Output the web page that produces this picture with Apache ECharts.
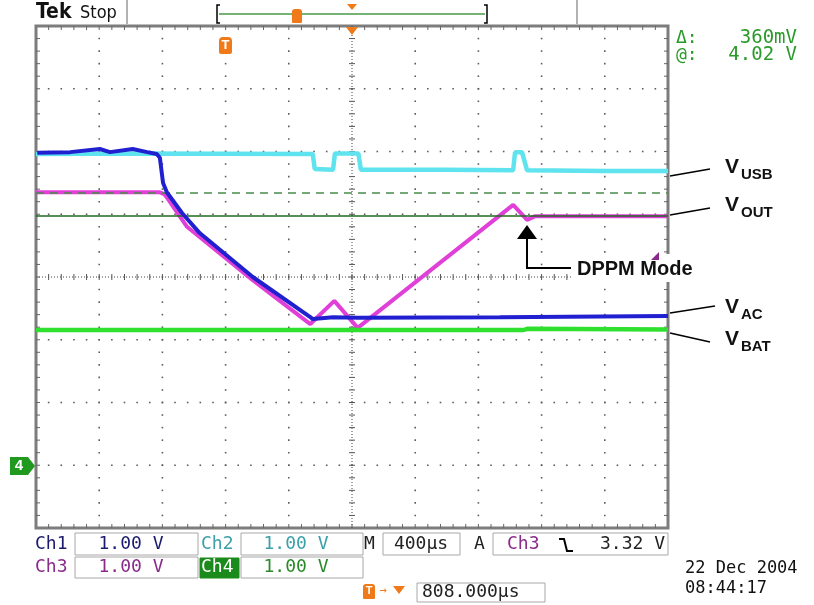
<!DOCTYPE html>
<html>
<head>
<meta charset="utf-8">
<script src="https://cdn.jsdelivr.net/npm/echarts@6/dist/echarts.min.js"></script>
<style>
    html, body { margin: 0; padding: 0; background: #fff; }
    #scope { width: 814px; height: 605px; }
</style>
</head>
<body>
<div id="scope"></div>
<script>
// traces in screen divisions: x -5..5 (10 div), y -4..4 (8 div)
var vusbTrace = [[-5.0,1.96],[-3.5,1.97],[-0.62,1.96],[-0.59,1.72],[-0.30,1.71],[-0.27,1.97],[0.10,1.97],[0.14,1.71],[1.5,1.71],[2.55,1.70],[2.58,1.99],[2.69,1.99],[2.77,1.70],[4.0,1.69],[5.0,1.69]];
var vacTrace = [[-4.98,1.98],[-4.46,1.99],[-3.99,2.04],[-3.83,1.99],[-3.47,2.04],[-3.24,1.99],[-3.09,1.96],[-3.04,1.90],[-2.99,1.50],[-2.93,1.35],[-2.69,1.02],[-2.41,0.70],[-1.57,0.0],[-0.66,-0.64],[-0.62,-0.67],[-0.30,-0.64],[0.09,-0.65],[2.34,-0.64],[5.0,-0.62]];
var voutTrace = [[-5.0,1.35],[-3.04,1.35],[-2.97,1.32],[-2.93,1.27],[-2.61,0.80],[-1.57,-0.05],[-0.66,-0.75],[-0.28,-0.38],[0.09,-0.81],[2.55,1.15],[2.77,0.91],[2.90,0.97],[5.0,0.97]];
var vbatTrace = [[-5.0,-0.845],[2.72,-0.845],[2.77,-0.825],[5.0,-0.835]];
var cursorLevels = [0.972, 1.355];   // solid, dashed

var chart = echarts.init(document.getElementById('scope'));

function graticule(params, api) {
    var kids = [];
    var dot = function (x, y) {
        var p = api.coord([x, y]);
        kids.push({type: 'rect', shape: {x: p[0] - 0.8, y: p[1] - 0.8, width: 1.6, height: 1.6}, style: {fill: '#5e5e5e'}});
    };
    var seg = function (a, b, w, c) {
        kids.push({type: 'line', shape: {x1: a[0], y1: a[1], x2: b[0], y2: b[1]}, style: {stroke: c || '#555', lineWidth: w || 1}});
    };
    var i, k, p;
    // major lines as dots
    for (i = -4; i <= 4; i++) {
        if (i === 0) continue;
        for (k = 1; k < 40; k++) dot(i, -4 + k * 0.2);
    }
    for (i = -3; i <= 3; i++) {
        if (i === 0) continue;
        for (k = 1; k < 50; k++) dot(-5 + k * 0.2, i);
    }
    // centre cross
    kids.push({type: 'line', shape: {x1: api.coord([-5, 0])[0], y1: api.coord([-5, 0])[1], x2: api.coord([5, 0])[0], y2: api.coord([5, 0])[1]},
        style: {stroke: '#444', lineWidth: 1, lineDash: [1, 2]}});
    kids.push({type: 'line', shape: {x1: api.coord([0, -4])[0], y1: api.coord([0, -4])[1], x2: api.coord([0, 4])[0], y2: api.coord([0, 4])[1]},
        style: {stroke: '#444', lineWidth: 1, lineDash: [1, 2]}});
    for (k = 1; k < 50; k++) {
        p = api.coord([-5 + k * 0.2, 0]);
        seg([p[0], p[1] - 3], [p[0], p[1] + 3]);
        p = api.coord([-5 + k * 0.2, 4]);
        seg([p[0], p[1]], [p[0], p[1] + 4], 1, '#666');
        p = api.coord([-5 + k * 0.2, -4]);
        seg([p[0], p[1]], [p[0], p[1] - 4], 1, '#666');
    }
    for (k = 1; k < 40; k++) {
        p = api.coord([0, -4 + k * 0.2]);
        seg([p[0] - 3, p[1]], [p[0] + 3, p[1]]);
        p = api.coord([-5, -4 + k * 0.2]);
        seg([p[0], p[1]], [p[0] + 4, p[1]], 1, '#666');
        p = api.coord([5, -4 + k * 0.2]);
        seg([p[0], p[1]], [p[0] - 4, p[1]], 1, '#666');
    }
    return {type: 'group', children: kids};
}

var mono = "'DejaVu Sans Mono', monospace";
var helv = "'Liberation Sans', Arial, sans-serif";
var orange = '#f07a1a';

function txt(x, y, s, opt) {
    opt = opt || {};
    return {
        type: 'text', x: x, y: y, z: opt.z || 20,
        style: {
            text: s, fill: opt.color || '#111', align: opt.align || 'left', verticalAlign: 'middle',
            font: (opt.weight || 'normal') + ' ' + (opt.size || 18) + 'px ' + (opt.family || mono)
        }
    };
}
function box(x, y, w, h, fill) {
    return {type: 'rect', shape: {x: x, y: y, width: w, height: h}, z: 10,
        style: {fill: fill || '#fff', stroke: fill ? fill : '#a8a8a8', lineWidth: 1}};
}
function ln(pts, w, c) {
    return {type: 'polyline', shape: {points: pts}, z: 30, style: {stroke: c || '#000', lineWidth: w || 1.5, fill: null}};
}

var graphics = [
    // header
    txt(36, 13, 'Tek', {weight: 'bold', size: 21, family: "'DejaVu Sans Condensed', sans-serif"}),
    txt(80, 13, 'Stop', {size: 18, family: "'DejaVu Sans Condensed', sans-serif"}),
    ln([[127, 0], [127, 24]], 1.5, '#999'), ln([[577, 0], [577, 24]], 1.5, '#999'),
    ln([[220, 5], [217, 5], [217, 23], [220, 23]], 1.5),
    ln([[484, 5], [487, 5], [487, 23], [484, 23]], 1.5),
    {type: 'line', shape: {x1: 219, y1: 14, x2: 485, y2: 14}, z: 20, style: {stroke: '#4a9a4a', lineWidth: 1.5}},
    {type: 'rect', shape: {x: 292, y: 9, width: 10, height: 14, r: [3, 3, 1, 1]}, z: 21, style: {fill: orange}},
    {type: 'polygon', shape: {points: [[347, 4], [357, 4], [352, 10]]}, z: 21, style: {fill: orange}},
    // cursor readout
    txt(676, 38, 'Δ:', {color: '#2a9a2a', size: 18}),
    txt(797, 38, '360mV', {color: '#2a9a2a', size: 19, align: 'right'}),
    txt(676, 55, '@:', {color: '#2a9a2a', size: 18}),
    txt(797, 55, '4.02 V', {color: '#2a9a2a', size: 19, align: 'right'}),
    // markers on the graticule
    {type: 'polygon', shape: {points: [[346, 27], [358, 27], [352, 35]]}, z: 40, style: {fill: orange}},
    {type: 'rect', shape: {x: 219, y: 37, width: 13, height: 17, r: [4, 4, 2, 2]}, z: 40, style: {fill: orange}},
    txt(225.5, 45, 'T', {color: '#fff', weight: 'bold', size: 13, align: 'center', family: helv, z: 41}),
    {type: 'polygon', shape: {points: [[10, 457], [28, 457], [35, 466], [28, 475], [10, 475]]}, z: 40, style: {fill: '#1f9a1f'}},
    txt(19, 466, '4', {color: '#fff', weight: 'bold', size: 15, align: 'center', family: helv, z: 41}),
    {type: 'polygon', shape: {points: [[659, 252], [659, 260], [651, 260]]}, z: 40, style: {fill: '#8a2a8a'}},
    // channel labels
    ln([[670, 176], [710, 169]]), ln([[670, 215], [710, 208]]),
    ln([[670, 313], [715, 306]]), ln([[670, 333], [710, 342]]),
    txt(725, 167, 'V', {weight: 'bold', size: 21, family: helv}),
    txt(741, 175, 'USB', {weight: 'bold', size: 15, family: helv}),
    txt(725, 205, 'V', {weight: 'bold', size: 21, family: helv}),
    txt(741, 213, 'OUT', {weight: 'bold', size: 15, family: helv}),
    txt(725, 307, 'V', {weight: 'bold', size: 21, family: helv}),
    txt(741, 315, 'AC', {weight: 'bold', size: 15, family: helv}),
    txt(725, 339, 'V', {weight: 'bold', size: 21, family: helv}),
    txt(741, 347, 'BAT', {weight: 'bold', size: 15, family: helv}),
    // DPPM annotation
    {type: 'rect', shape: {x: 571, y: 254, width: 130, height: 28}, z: 25, style: {fill: '#fff'}},
    txt(577, 269, 'DPPM Mode', {weight: 'bold', size: 20, family: helv, z: 31}),
    {type: 'polygon', shape: {points: [[527, 225], [517, 239], [537, 239]]}, z: 30, style: {fill: '#000'}},
    ln([[527, 239], [527, 268], [571, 268]], 2),
    // readout rows
    txt(35, 544, 'Ch1', {color: '#1a1a6e'}),
    box(75, 533, 123, 22), txt(131, 544, '1.00 V', {color: '#1a1a6e', align: 'center'}),
    txt(201, 544, 'Ch2', {color: '#3aa0aa'}),
    box(241, 533, 122, 22), txt(296, 544, '1.00 V', {color: '#3aa0aa', align: 'center'}),
    txt(364, 544, 'M', {color: '#222'}),
    box(383, 533, 77, 22), txt(421, 544, '400μs', {color: '#222', align: 'center'}),
    txt(474, 544, 'A', {color: '#222'}),
    box(493, 533, 175, 22), txt(507, 544, 'Ch3', {color: '#8a2a8a'}),
    ln([[559, 539], [564, 539], [567, 551], [573, 551]], 2),
    txt(665, 544, '3.32 V', {color: '#222', align: 'right'}),
    txt(35, 567, 'Ch3', {color: '#8a2a8a'}),
    box(75, 557, 123, 21), txt(131, 567, '1.00 V', {color: '#8a2a8a', align: 'center'}),
    box(200, 558, 39, 20, '#1a8a1a'), txt(201, 567, 'Ch4', {color: '#fff'}),
    box(241, 557, 122, 21), txt(296, 567, '1.00 V', {color: '#2a8a2a', align: 'center'}),
    {type: 'rect', shape: {x: 363, y: 584, width: 12, height: 15, r: [3, 3, 1, 1]}, z: 20, style: {fill: orange}},
    txt(369, 591, 'T', {color: '#fff', weight: 'bold', size: 11, align: 'center', family: helv, z: 21}),
    txt(383, 591, '→', {color: orange, size: 12, align: 'center'}),
    {type: 'polygon', shape: {points: [[393, 586], [405, 586], [399, 594]]}, z: 20, style: {fill: orange}},
    box(417, 583, 128, 19), txt(422, 592, '808.000μs', {color: '#222'}),
    txt(685, 569, '22 Dec 2004', {color: '#111', size: 17}),
    txt(685, 589, '08:44:17', {color: '#111', size: 17})
];

var option = {
    animation: false,
    backgroundColor: '#fff',
    grid: {left: 36, top: 26, right: 146, bottom: 77, show: true, borderColor: '#7d7d7d', borderWidth: 3, backgroundColor: '#fff'},
    xAxis: {type: 'value', min: -5, max: 5, interval: 1, axisLine: {show: false}, axisTick: {show: false},
        axisLabel: {show: false}, splitLine: {show: false}},
    yAxis: {type: 'value', min: -4, max: 4, interval: 1, axisLine: {show: false}, axisTick: {show: false},
        axisLabel: {show: false}, splitLine: {show: false}},
    graphic: graphics,
    series: [
        {type: 'custom', renderItem: graticule, data: [[0, 0]], silent: true, z: 1, clip: false},
        {
            name: 'VUSB', type: 'line', data: vusbTrace, showSymbol: false, z: 3,
            lineStyle: {color: '#5fe3ee', width: 4.5},
            markLine: {
                silent: true, symbol: 'none', label: {show: false},
                data: [
                    {yAxis: cursorLevels[0], lineStyle: {color: '#1f6a1f', width: 1.5, type: 'solid'}},
                    {yAxis: cursorLevels[1], lineStyle: {color: '#4a8a4a', width: 1.5, type: [8, 6]}}
                ]
            }
        },
        {name: 'VOUT', type: 'line', data: voutTrace, showSymbol: false, z: 4, lineStyle: {color: '#e03fd8', width: 4}},
        {name: 'VAC', type: 'line', data: vacTrace, showSymbol: false, z: 5, lineStyle: {color: '#2020d0', width: 4}},
        {name: 'VBAT', type: 'line', data: vbatTrace, showSymbol: false, z: 6, lineStyle: {color: '#2fe02f', width: 4.5}}
    ]
};

chart.setOption(option);
</script>
</body>
</html>
